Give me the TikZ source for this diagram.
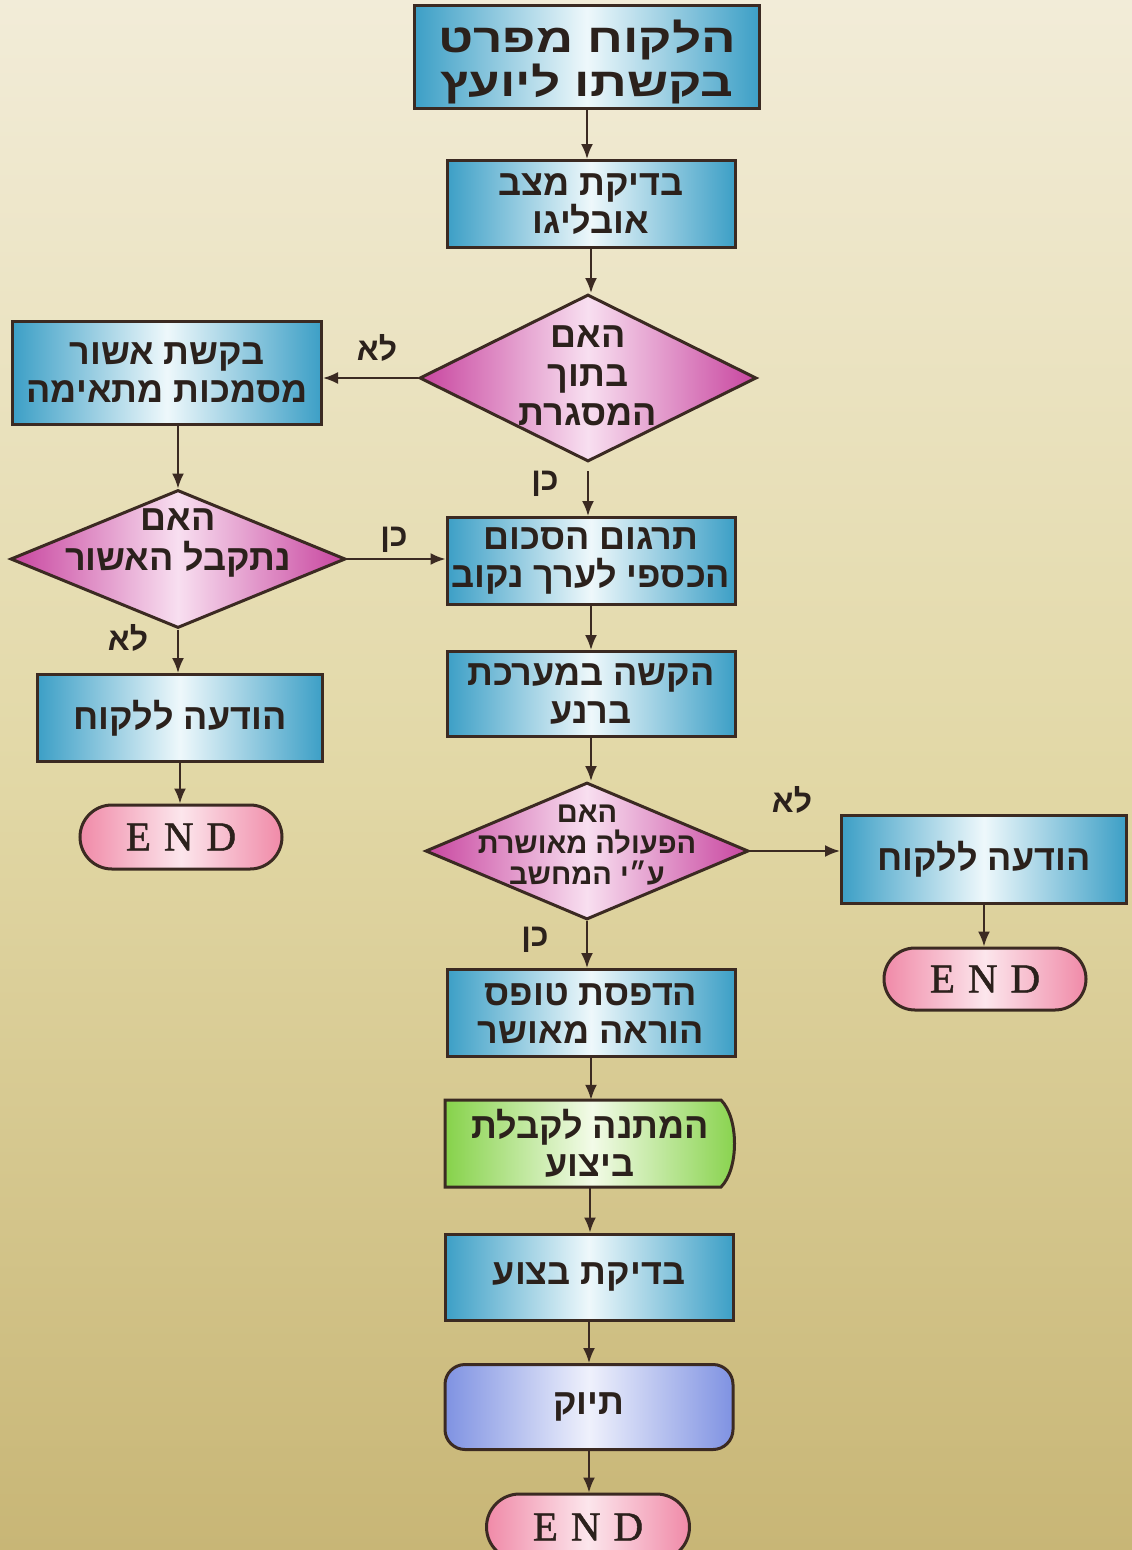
\documentclass[tikz,border=0pt]{standalone}
\usepackage{fontspec}
\setmainfont{Liberation Sans}
\newfontfamily\hebfont[Script=Hebrew]{Liberation Sans}
\newfontfamily\hebwide[Script=Hebrew,FakeStretch=1.28]{Liberation Sans}
\newfontfamily\endfont[FakeBold=1.2]{Liberation Serif}
\TeXXeTstate=1
\usetikzlibrary{shapes.geometric,shapes.misc,arrows.meta}
\newcommand\hb[1]{\beginR #1\endR}
\definecolor{edge}{HTML}{3B2A22}
\definecolor{ink}{HTML}{2B211C}
\definecolor{cblue}{HTML}{3C9FC6}
\definecolor{cbluec}{HTML}{EEF8FB}
\definecolor{cmag}{HTML}{C8459F}
\definecolor{cmagc}{HTML}{F8DFF0}
\definecolor{cpink}{HTML}{F08AA8}
\definecolor{cpinkc}{HTML}{FCE6EC}
\definecolor{cgreen}{HTML}{86D24A}
\definecolor{cgreenc}{HTML}{F3FBE8}
\definecolor{cviolet}{HTML}{7F92E2}
\definecolor{cvioletc}{HTML}{EFF1FC}
\definecolor{bgtop}{HTML}{F2ECD8}
\definecolor{bgmid}{HTML}{E2D8A6}
\definecolor{bgbot}{HTML}{C8B676}
\tikzset{
  hebtxt/.style={text=ink, font=\hebfont\bfseries\fontsize{36}{38}\selectfont, align=center, inner sep=0pt},
  box/.style={hebtxt, draw=edge, line width=3pt, left color=cblue, right color=cblue, middle color=cbluec},
  dia/.style={diamond, draw=edge, line width=3pt, left color=cmag, right color=cmag, middle color=cmagc, inner sep=0pt},
  endbox/.style={rounded rectangle, draw=edge, line width=3pt, left color=cpink, right color=cpink, middle color=cpinkc,
     font=\endfont\fontsize{41}{41}\selectfont, text=ink, minimum width=202pt, minimum height=64pt, inner sep=0pt},
  arr/.style={draw=edge, line width=2pt, -{Latex[length=15pt,width=12pt]}},
  lbl/.style={text=ink, font=\hebfont\bfseries\fontsize{32}{36}\selectfont, inner sep=0pt},
}
\newcommand\myEND{E\hspace{13pt}N\hspace{13pt}D}
\begin{document}
\begin{tikzpicture}[x=1pt,y=-1pt]
\useasboundingbox (0,0) rectangle (1132,1550);
\clip (0,0) rectangle (1132,1550);
\shade[top color=bgtop, bottom color=bgbot, middle color=bgmid] (0,0) rectangle (1132,1550);

% centre column
\node[box, line width=3.5pt, minimum width=345pt, minimum height=103pt] (top) at (587,57) {};
\node[hebtxt, font=\hebwide\bfseries\fontsize{40}{44}\selectfont] (topt) at (587,62) {\hb{הלקוח מפרט}\\\hb{בקשתו ליועץ}};
\node[box, minimum width=288pt, minimum height=87pt] (b2) at (591,204) {\hb{בדיקת מצב}\\\hb{אובליגו}};
\node[dia, minimum width=337pt, minimum height=167pt] (d1) at (588,378) {};
\node[hebtxt, font=\hebfont\bfseries\fontsize{36}{39}\selectfont] (d1t) at (588,376) {\hb{האם}\\\hb{בתוך}\\\hb{המסגרת}};
\node[box, minimum width=288pt, minimum height=87pt] (b3) at (591,561) {\hb{תרגום הסכום}\\\hb{הכספי לערך נקוב}};
\node[box, minimum width=288pt, minimum height=85pt] (b4) at (591,694) {\hb{הקשה במערכת}\\\hb{ברנע}};
\node[dia, minimum width=323pt, minimum height=137pt] (d3) at (587,851) {};
\node[hebtxt, font=\hebfont\bfseries\fontsize{29}{31}\selectfont] (d3t) at (587,845) {\hb{האם}\\\hb{הפעולה מאושרת}\\\hb{ע״י המחשב}};
\node[box, minimum width=288pt, minimum height=87pt] (b5) at (591,1013) {\hb{הדפסת טופס}\\\hb{הוראה מאושר}};
\shade[draw=edge, line width=3pt, left color=cgreen, right color=cgreen, middle color=cgreenc]
  (445,1100) -- (721,1100) .. controls (739,1118) and (739,1169) .. (721,1187) -- (445,1187) -- cycle;
\node[hebtxt, minimum width=290pt, minimum height=87pt] (g) at (590,1143.5) {\hb{המתנה לקבלת}\\\hb{ביצוע}};
\node[box, minimum width=288pt, minimum height=86pt] (b6) at (589,1277) {\hb{בדיקת בצוע}};
\node[box, rounded corners=20pt, left color=cviolet, right color=cviolet, middle color=cvioletc, minimum width=288pt, minimum height=85pt] (t) at (589,1407) {\hb{תיוק}};
\node[endbox, minimum width=203pt, minimum height=66pt] (e3) at (588,1527) {\myEND};

% left column
\node[box, minimum width=309pt, minimum height=103pt] (l1) at (167,373) {\hb{בקשת אשור}\\\hb{מסמכות מתאימה}};
\node[dia, minimum width=335pt, minimum height=138pt] (d2) at (178,559) {};
\node[hebtxt, font=\hebfont\bfseries\fontsize{36}{40}\selectfont] (d2t) at (178,543) {\hb{האם}\\\hb{נתקבל האשור}};
\node[box, minimum width=285pt, minimum height=87pt] (l2) at (180,718) {\hb{הודעה ללקוח}};
\node[endbox] (e1) at (181,837) {\myEND};

% right column
\node[box, minimum width=285pt, minimum height=88pt] (r1) at (984,859) {\hb{הודעה ללקוח}};
\node[endbox, minimum height=62pt] (e2) at (985,979) {\myEND};

% labels
\node[lbl] (n1) at (377,348) {\hb{לא}};
\node[lbl] (y1) at (545,484) {\hb{כן}};
\node[lbl] (y2) at (394,540) {\hb{כן}};
\node[lbl] (n2) at (128,638) {\hb{לא}};
\node[lbl] (n3) at (792,800) {\hb{לא}};
\node[lbl] (y3) at (535,940) {\hb{כן}};

% connectors
\draw[arr] (top.south) -- (top.south |- b2.north);
\draw[arr] (b2.south) -- (b2.south |- d1.north);
\draw[arr] (d1.west) -- (d1.west -| l1.east);
\draw[arr] ([yshift=-8pt]d1.south) -- (d1.south |- b3.north);
\draw[arr] (d2.north |- l1.south) -- (d2.north);
\draw[arr] (d2.east) -- (d2.east -| b3.west);
\draw[arr] (d2.south) -- (d2.south |- l2.north);
\draw[arr] (l2.south) -- (l2.south |- e1.north);
\draw[arr] (b3.south) -- (b3.south |- b4.north);
\draw[arr] (b4.south) -- (b4.south |- d3.north);
\draw[arr] (d3.east) -- (d3.east -| r1.west);
\draw[arr] (r1.south) -- (r1.south |- e2.north);
\draw[arr] (d3.south) -- (d3.south |- b5.north);
\draw[arr] (b5.south) -- (b5.south |- g.north);
\draw[arr] (g.south) -- (g.south |- b6.north);
\draw[arr] (b6.south) -- (b6.south |- t.north);
\draw[arr] (t.south) -- (t.south |- e3.north);
\end{tikzpicture}
\end{document}
